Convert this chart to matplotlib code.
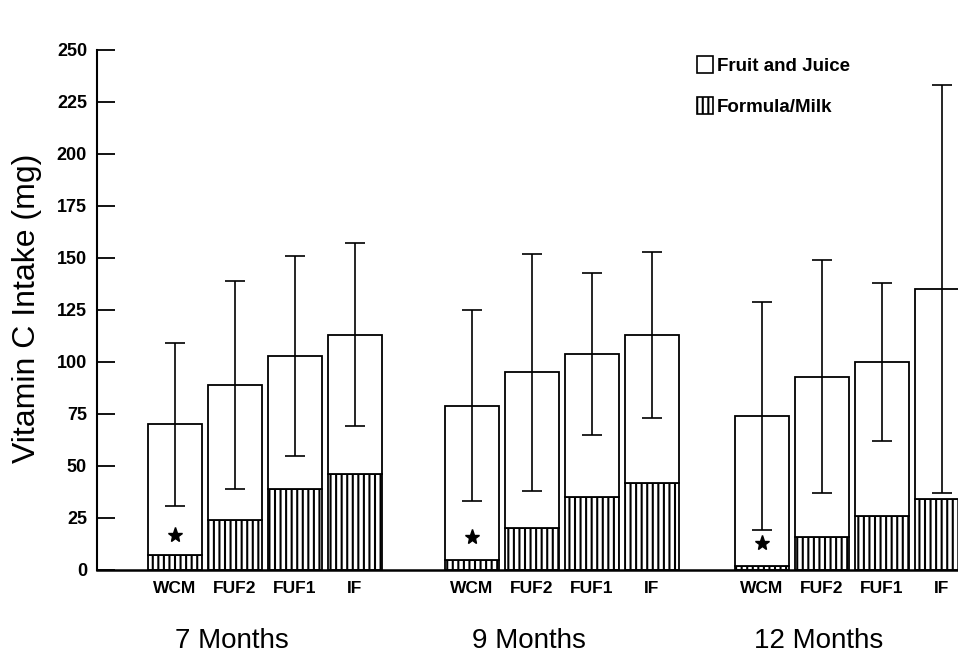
import matplotlib.pyplot as plt
import numpy as np
from matplotlib.patches import Patch

plt.rcParams['font.family'] = ['Liberation Sans', 'DejaVu Sans']
plt.rcParams['hatch.linewidth'] = 1.5

# values (mg vitamin C per day)
groups = ['7 Months', '9 Months', '12 Months']
milk_types = ['WCM', 'FUF2', 'FUF1', 'IF']
total_7 = [70, 89, 103, 113]
total_9 = [79, 95, 104, 113]
total_12 = [74, 93, 100, 135]
formula_7 = [7, 24, 39, 46]
formula_9 = [5, 20, 35, 42]
formula_12 = [2, 16, 26, 34]
sd_7 = [39, 50, 48, 44]
sd_9 = [46, 57, 39, 40]
sd_12 = [55, 56, 38, 98]
star_y = [17, 16, 13]   # significance marker on WCM bars

totals = [total_7, total_9, total_12]
formulas = [formula_7, formula_9, formula_12]
sds = [sd_7, sd_9, sd_12]

fig = plt.figure(figsize=(9.58, 6.64), dpi=100)
ax = fig.add_axes([0.101, 0.1416, 0.899, 0.7831])

group_start = [1.3, 6.25, 11.08]
width = 0.9
tick_pos, tick_lab = [], []
for g in range(3):
    x = group_start[g] + np.arange(4)
    tot = np.array(totals[g])
    form = np.array(formulas[g])
    # formula / milk part (hatched) and fruit & juice on top
    ax.bar(x, form, width, color='white', edgecolor='black', hatch='|||', linewidth=1.3)
    ax.bar(x, tot - form, width, bottom=form, color='white', edgecolor='black', linewidth=1.3)
    ax.errorbar(x, tot, yerr=sds[g], fmt='none', ecolor='black', elinewidth=1.2,
                capsize=7.5, capthick=1.2)
    ax.plot(x[0], star_y[g], marker='*', color='black', markersize=11, linestyle='none')
    ax.text(group_start[g] + 0.95, -34, groups[g], ha='center', va='center', fontsize=20,
            clip_on=False)
    tick_pos += list(x)
    tick_lab += milk_types

ax.set_xlim(0, 14.35)
ax.set_ylim(0, 250)
ax.set_yticks(np.arange(0, 251, 25))
ax.set_xticks(tick_pos)
ax.set_xticklabels(tick_lab, fontsize=12.5, fontweight='bold')
ax.tick_params(axis='x', length=0, pad=8)
ax.tick_params(axis='y', direction='in', length=13, width=1.3, pad=7, labelsize=13)
for lab in ax.get_yticklabels():
    lab.set_fontweight('bold')
ax.spines['top'].set_visible(False)
ax.spines['right'].set_visible(False)
ax.spines['left'].set_linewidth(1.5)
ax.spines['bottom'].set_linewidth(1.8)
ax.set_ylabel('Vitamin C Intake (mg)', fontsize=23)
ax.yaxis.set_label_coords(-0.064, 0.504)

handles = [Patch(facecolor='white', edgecolor='black', linewidth=1.2),
           Patch(facecolor='white', edgecolor='black', hatch='|||', linewidth=1.2)]
leg = ax.legend(handles, ['Fruit and Juice', 'Formula/Milk'], loc='upper left',
                bbox_to_anchor=(0.718, 0.930), bbox_transform=fig.transFigure,
                frameon=False, handlelength=0.85, handleheight=1.0, handletextpad=0.2,
                labelspacing=1.2, borderpad=0, prop={'size': 13.5, 'weight': 'bold'})

fig.savefig('out.png', dpi=100)
